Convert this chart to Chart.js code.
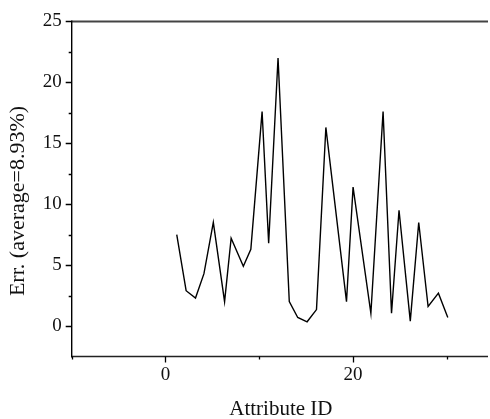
<!DOCTYPE html>
<html>
<head>
<meta charset="utf-8">
<script src="https://cdn.jsdelivr.net/npm/chart.js@4"></script>
<style>
  html, body { margin: 0; padding: 0; background: #fff; }
  #errChart { display: block; }
</style>
</head>
<body>
<canvas id="errChart" width="490" height="419"></canvas>
<script>
// values
const attrIds = [1.2, 2.2, 3.2, 4.1, 5.1, 6.3, 7.0, 8.3, 9.1, 10.3, 11.0, 12.0, 13.2, 14.1,
  15.1, 16.1, 17.1, 19.3, 20.0, 21.9, 23.2, 24.1, 24.9, 26.1, 27.0, 28.0, 29.1, 30.1];
const errValues = [7.5, 2.9, 2.3, 4.3, 8.5, 2.0, 7.2, 4.9, 6.3, 17.6, 6.8, 22.0, 2.0, 0.7,
  0.35, 1.35, 16.3, 2.0, 11.4, 1.05, 17.6, 1.05, 9.5, 0.4, 8.5, 1.6, 2.7, 0.7];

const xMajor = [0, 20];
const xMinor = [-10, 10, 30];
const yMajor = [0, 5, 10, 15, 20, 25];
const yMinor = [2.5, 7.5, 12.5, 17.5, 22.5];

const xTitle = 'Attribute ID';
const yTitle = 'Err. (average=8.93%)';
const serif = "'Liberation Serif', 'DejaVu Serif', serif";

// axis lines, tick marks and the rotated y title
const framePlugin = {
  id: 'frame',
  afterDraw(chart) {
    const {ctx, chartArea: a, scales: {x, y}} = chart;
    ctx.save();
    ctx.lineCap = 'butt';

    ctx.strokeStyle = '#444';
    ctx.lineWidth = 2;
    ctx.beginPath();
    ctx.moveTo(a.left, a.top);
    ctx.lineTo(a.right - 2, a.top);
    ctx.stroke();

    ctx.strokeStyle = '#222';
    ctx.lineWidth = 1.6;
    ctx.beginPath();
    ctx.moveTo(a.left, a.bottom);
    ctx.lineTo(a.right - 2, a.bottom);
    ctx.stroke();

    ctx.strokeStyle = '#000';
    ctx.lineWidth = 1.4;
    ctx.beginPath();
    ctx.moveTo(a.left, a.top - 1);
    ctx.lineTo(a.left, a.bottom + 1);
    ctx.stroke();

    ctx.lineWidth = 1.3;
    ctx.beginPath();
    yMajor.forEach(v => {
      const py = Math.round(y.getPixelForValue(v)) + 0.5;
      ctx.moveTo(a.left, py);
      ctx.lineTo(a.left - 6, py);
    });
    yMinor.forEach(v => {
      const py = Math.round(y.getPixelForValue(v)) + 0.5;
      ctx.moveTo(a.left, py);
      ctx.lineTo(a.left - 3, py);
    });
    xMajor.forEach(v => {
      const px = Math.round(x.getPixelForValue(v)) + 0.5;
      ctx.moveTo(px, a.bottom);
      ctx.lineTo(px, a.bottom + 6);
    });
    xMinor.forEach(v => {
      const px = Math.round(x.getPixelForValue(v)) + 0.5;
      ctx.moveTo(px, a.bottom);
      ctx.lineTo(px, a.bottom + 3);
    });
    ctx.stroke();

    ctx.fillStyle = '#111';
    ctx.font = '22px ' + serif;
    ctx.textAlign = 'center';
    ctx.textBaseline = 'middle';
    ctx.translate(18, 201);
    ctx.rotate(-Math.PI / 2);
    ctx.fillText(yTitle, 0, 0);
    ctx.restore();
  }
};

const ctx = document.getElementById('errChart').getContext('2d');

new Chart(ctx, {
  type: 'line',
  data: {
    datasets: [{
      data: attrIds.map((id, i) => ({x: id, y: errValues[i]})),
      borderColor: '#000',
      borderWidth: 1.4,
      pointRadius: 0,
      fill: false,
      tension: 0
    }]
  },
  options: {
    responsive: false,
    animation: false,
    devicePixelRatio: 1,
    layout: {padding: {top: 16.5, right: 0, left: 0, bottom: 0}},
    plugins: {
      legend: {display: false},
      tooltip: {enabled: false}
    },
    scales: {
      x: {
        type: 'linear',
        min: -10,
        max: 34.6,
        grid: {display: false, drawTicks: false},
        border: {display: false},
        afterBuildTicks: scale => { scale.ticks = xMajor.map(v => ({value: v})); },
        afterFit: scale => { scale.height = 62.5; },
        ticks: {
          color: '#111',
          padding: 7,
          maxRotation: 0,
          font: {family: serif, size: 19}
        },
        title: {
          display: true,
          text: xTitle,
          color: '#111',
          padding: {top: 0, bottom: -3},
          font: {family: serif, size: 21}
        }
      },
      y: {
        min: -2.5,
        max: 25,
        grid: {display: false, drawTicks: false},
        border: {display: false},
        afterBuildTicks: scale => { scale.ticks = yMajor.map(v => ({value: v})); },
        afterFit: scale => { scale.width = 71.7; },
        ticks: {
          color: '#111',
          padding: 10,
          font: {family: serif, size: 19}
        }
      }
    }
  },
  plugins: [framePlugin]
});
</script>
</body>
</html>
